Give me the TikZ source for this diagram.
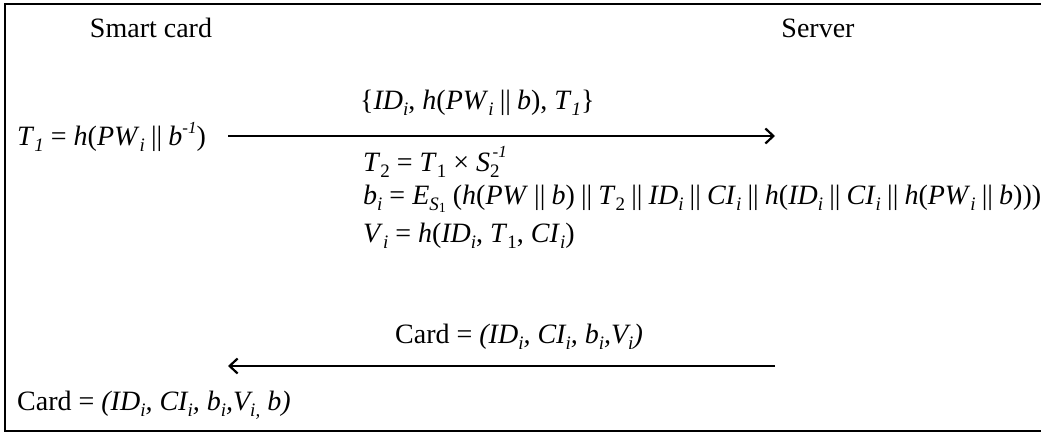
\documentclass[tikz,border=0pt]{standalone}
\usepackage{fontspec}
\setmainfont{Liberation Serif}
\usetikzlibrary{arrows.meta}
\newcommand{\I}[1]{\textit{#1}}
\newcommand{\sbs}[1]{\raisebox{-0.2em}{\fontsize{19}{19}\selectfont #1}}
\newcommand{\ssbs}[1]{\raisebox{-0.15em}{\fontsize{14}{14}\selectfont #1}}
\newcommand{\sps}[1]{\raisebox{0.45em}{\fontsize{17}{17}\selectfont #1}}
\newcommand{\bars}{\kern0.22em||\kern0.22em}
\begin{document}
\begin{tikzpicture}[x=1pt,y=-1pt,
  txt/.style={inner sep=0pt,font=\fontsize{28}{32}\selectfont},
  msg/.style={line width=2.2pt,-{Straight Barb[length=8pt,width=15pt,line width=2.2pt]}}]
\useasboundingbox (0,0) rectangle (1041,435);
\begin{scope}
\clip (0,0) rectangle (1041,435);
\draw[line width=2.2pt] (1060,4) -- (5,4) -- (5,431) -- (1060,431);
\end{scope}
\node[txt] (sc) at (151,28) {Smart card};
\node[txt] (sv) at (818,28) {Server};
\node[txt,anchor=west] (t1) at (17,137) {\I{T}\sbs{\I{1}} = \I{h}(\I{PW}\sbs{\I{i}}\bars\I{b}\sps{\I{-1}})};
\coordinate (a1s) at (228,136);
\coordinate (a1e) at (775,136);
\draw[msg] (a1s) -- (a1e);
\node[txt,anchor=west] (m1) at (360,103) {\{\I{ID}\sbs{\I{i}}, \I{h}(\I{PW}\sbs{\I{i}}\bars\I{b}), \I{T}\sbs{\I{1}}\}};
\node[txt,anchor=west] (t2) at (363,162) {\I{T}\sbs{2} = \I{T}\sbs{1} × \I{S}\sbs{2}\kern-0.25em\raisebox{0.5em}{\fontsize{17}{17}\selectfont\I{-1}}};
\node[txt,anchor=west] (bi) at (363,199) {\I{b}\sbs{\I{i}} = \I{E}\sbs{\I{S}\ssbs{1}} (\I{h}(\I{PW}\bars\I{b})\bars\I{T}\sbs{2}\bars\I{ID}\sbs{\I{i}}\bars\I{CI}\sbs{\I{i}}\bars\I{h}(\I{ID}\sbs{\I{i}}\bars\I{CI}\sbs{\I{i}}\bars\I{h}(\I{PW}\sbs{\I{i}}\bars\I{b})))};
\node[txt,anchor=west] (vi) at (363,236) {\I{V}\sbs{\I{i}} = \I{h}(\I{ID}\sbs{\I{i}}, \I{T}\sbs{1}, \I{CI}\sbs{\I{i}})};
\node[txt,anchor=west] (m2) at (395,337) {Card = \I{(ID\sbs{i}, CI\sbs{i}, b\sbs{i},V\sbs{i})}};
\coordinate (a2s) at (775,366);
\coordinate (a2e) at (228,366);
\draw[msg] (a2s) -- (a2e);
\node[txt,anchor=west] (card) at (17,405) {Card = \I{(ID\sbs{i}, CI\sbs{i}, b\sbs{i},V\sbs{i,} b)}};
\end{tikzpicture}
\end{document}
